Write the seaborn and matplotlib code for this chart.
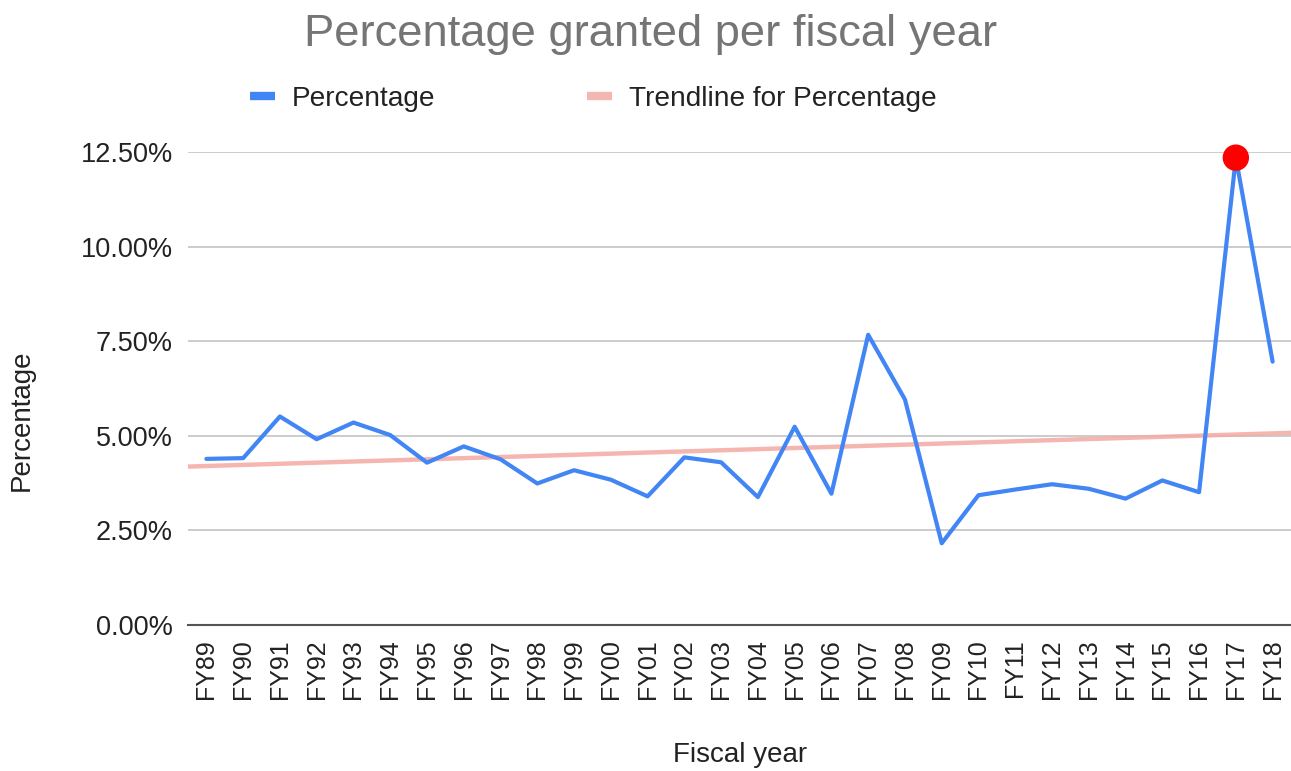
import numpy as np
import pandas as pd
import matplotlib
matplotlib.use("Agg")
import matplotlib.pyplot as plt
from matplotlib.lines import Line2D
from matplotlib.ticker import FuncFormatter
import seaborn as sns

# ---- data ----
fiscal_years = ["FY89", "FY90", "FY91", "FY92", "FY93", "FY94", "FY95", "FY96", "FY97", "FY98",
                "FY99", "FY00", "FY01", "FY02", "FY03", "FY04", "FY05", "FY06", "FY07", "FY08",
                "FY09", "FY10", "FY11", "FY12", "FY13", "FY14", "FY15", "FY16", "FY17", "FY18"]
percentage = [4.39, 4.41, 5.51, 4.91, 5.35, 5.02, 4.29, 4.72, 4.38, 3.74,
              4.09, 3.84, 3.40, 4.43, 4.30, 3.38, 5.24, 3.47, 7.67, 5.96,
              2.16, 3.43, 3.58, 3.72, 3.60, 3.34, 3.82, 3.51, 12.35, 6.96]
y_ticks = [0.0, 2.5, 5.0, 7.5, 10.0, 12.5]

sns.set_theme(style="white")
plt.rcParams["font.family"] = ["Liberation Sans", "DejaVu Sans"]

df = pd.DataFrame({"idx": np.arange(len(fiscal_years)), "fy": fiscal_years, "pct": percentage})

W, H = 1291, 771
fig = plt.figure(figsize=(W / 100, H / 100), dpi=100)
ax = fig.add_axes([188 / W, 1 - 625 / H, 1 - 188 / W, (625 - 152) / H])

xlim = (-0.5, len(fiscal_years) - 0.5)

# trendline (linear least squares over the data)
coef = np.polyfit(df["idx"], df["pct"], 1)
trend_df = pd.DataFrame({"x": list(xlim), "y": np.polyval(coef, list(xlim))})
sns.lineplot(data=trend_df, x="x", y="y", ax=ax, color="#f4aaa3", lw=3.2, alpha=0.85, zorder=2)

sns.lineplot(data=df, x="idx", y="pct", ax=ax, color="#4285f4", lw=3.0, zorder=3)

# highlight max point
mx = df.loc[df["pct"].idxmax()]
sns.scatterplot(x=[mx["idx"]], y=[mx["pct"]], ax=ax, color="#ff0000", s=19 ** 2,
                edgecolor="none", zorder=5, clip_on=False)

ax.set_xlim(*xlim)
ax.set_ylim(0, 12.5)
ax.set_yticks(y_ticks)
ax.yaxis.set_major_formatter(FuncFormatter(lambda v, p: f"{v:.2f}%"))
ax.set_xticks(df["idx"])
ax.set_xticklabels(fiscal_years, rotation=90)
ax.tick_params(axis="x", length=0, pad=10, labelsize=18, labelcolor="#222222")
ax.tick_params(axis="y", length=0, pad=11, labelsize=19.5, labelcolor="#222222")
ax.set_xlabel("")
ax.set_ylabel("")

ax.yaxis.grid(True, color="#cccccc", lw=1.4)
ax.xaxis.grid(False)
for s in ["top", "right", "left"]:
    ax.spines[s].set_visible(False)
ax.spines["bottom"].set_color("#555555")
ax.spines["bottom"].set_linewidth(1.5)
ax.set_axisbelow(True)

fig.text(651 / W, 1 - 46 / H, "Percentage granted per fiscal year", ha="center", va="baseline",
         fontsize=32.7, color="#757575")
fig.text(22 / W, 1 - 420 / H, "Percentage", rotation=90, ha="center", va="center",
         fontsize=20, color="#222222")
fig.text(740 / W, 1 - 755 / H, "Fiscal year", ha="center", va="center",
         fontsize=20, color="#222222")

handles = [Line2D([], [], color="#4285f4", lw=6, solid_capstyle="butt"),
           Line2D([], [], color="#f4b6b0", lw=6, solid_capstyle="butt")]
fig.legend(handles, ["Percentage", "Trendline for Percentage"], loc="center left",
           bbox_to_anchor=(250 / W, 1 - 99 / H), ncol=2, frameon=False, fontsize=20.2,
           handlelength=0.9, handletextpad=0.6, columnspacing=5.4, borderpad=0,
           borderaxespad=0, labelcolor="#222222")

fig.savefig("out.png", dpi=100)
